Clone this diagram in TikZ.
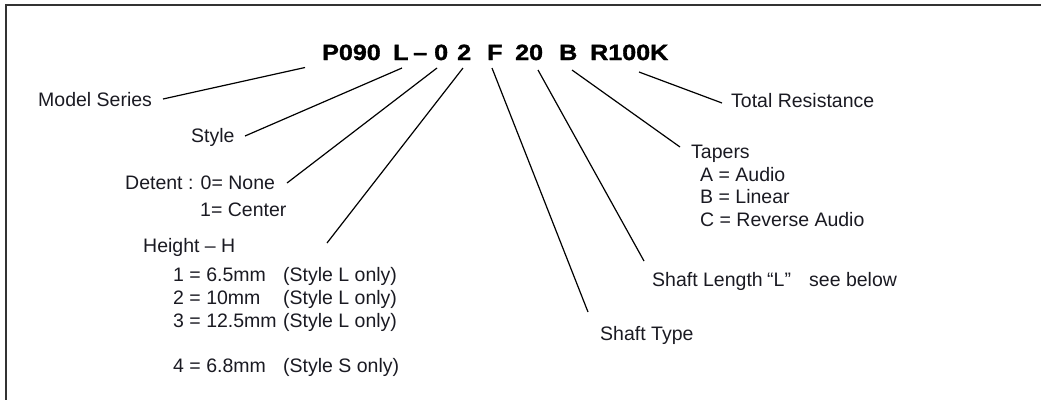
\documentclass[tikz,border=0pt]{standalone}
\usepackage{fontspec}
\setmainfont{Liberation Sans}
\newfontfamily\titlefont[FakeBold=1.5,FakeStretch=1.14]{Liberation Sans Bold}
\definecolor{ink}{HTML}{1A1A22}
\begin{document}
\begin{tikzpicture}[x=1pt,y=-1pt,
  lbl/.style={anchor=base west,inner sep=0pt,text=ink,font=\fontsize{19.5}{22}\selectfont},
  code/.style={anchor=base west,inner sep=0pt,text=black,font=\titlefont\fontsize{22}{24}\selectfont},
  lead/.style={draw=black,line width=1.2pt},
  frame/.style={draw=black!80,line width=2pt}]
\useasboundingbox (0,0) rectangle (1041,400);
% frame
\coordinate (frTR) at (1041,5);
\coordinate (frTL) at (6,5);
\coordinate (frBL) at (6,400);
\draw[frame] (frTR) -- (frTL) -- (frBL);
% part number
\node[code] (cP) at (322,60) {P090};
\node[code] (cL) at (393,60) {L};
\node[code] (cD) at (413,60) {–};
\node[code] (c0) at (434,60) {0};
\node[code] (c2) at (457,60) {2};
\node[code] (cF) at (487,60) {F};
\node[code] (c20) at (515,60) {20};
\node[code] (cB) at (559,60) {B};
\node[code] (cR) at (590,60) {R100K};
% labels
\node[lbl] (ms) at (38,106) {Model Series};
\node[lbl] (st) at (191,142) {Style};
\node[lbl] (dt) at (125,189) {Detent : 0= None};
\node[lbl] (dc) at (200,216) {1= Center};
\node[lbl] (ht) at (143,252) {Height – H};
\node[lbl] (h1) at (173,281) {1 = 6.5mm};
\node[lbl] (h1s) at (283,281) {(Style L only)};
\node[lbl] (h2) at (173,304) {2 = 10mm};
\node[lbl] (h2s) at (283,304) {(Style L only)};
\node[lbl] (h3) at (173,327) {3 = 12.5mm};
\node[lbl] (h3s) at (283,327) {(Style L only)};
\node[lbl] (h4) at (173,372) {4 = 6.8mm};
\node[lbl] (h4s) at (283,372) {(Style S only)};
\node[lbl] (sty) at (600,340) {Shaft Type};
\node[lbl] (sl) at (652,286) {Shaft Length};
\node[lbl] (slL) at (767,286) {“L”};
\node[lbl] (slS) at (809,286) {see below};
\node[lbl] (tp) at (691,158) {Tapers};
\node[lbl] (ta) at (700,181) {A = Audio};
\node[lbl] (tb) at (700,203.5) {B = Linear};
\node[lbl] (tc) at (700,226) {C = Reverse Audio};
\node[lbl] (tr) at (731,107) {Total Resistance};
% connector end points
\coordinate (eP) at (305,67.5);
\coordinate (eMs) at (163,99);
\coordinate (eL) at (402,68);
\coordinate (eSt) at (245,136);
\coordinate (e0) at (437,68);
\coordinate (eDt) at (287,183);
\coordinate (e2) at (463,68);
\coordinate (eHt) at (327,243);
\coordinate (eF) at (492,68);
\coordinate (eSty) at (588,312);
\coordinate (e20) at (538,70);
\coordinate (eSl) at (644,261);
\coordinate (eB) at (572,70);
\coordinate (eTp) at (680,147);
\coordinate (eR) at (639,72);
\coordinate (eTr) at (722,103);
\draw[lead] (eP) -- (eMs);
\draw[lead] (eL) -- (eSt);
\draw[lead] (e0) -- (eDt);
\draw[lead] (e2) -- (eHt);
\draw[lead] (eF) -- (eSty);
\draw[lead] (e20) -- (eSl);
\draw[lead] (eB) -- (eTp);
\draw[lead] (eR) -- (eTr);
\end{tikzpicture}
\end{document}
